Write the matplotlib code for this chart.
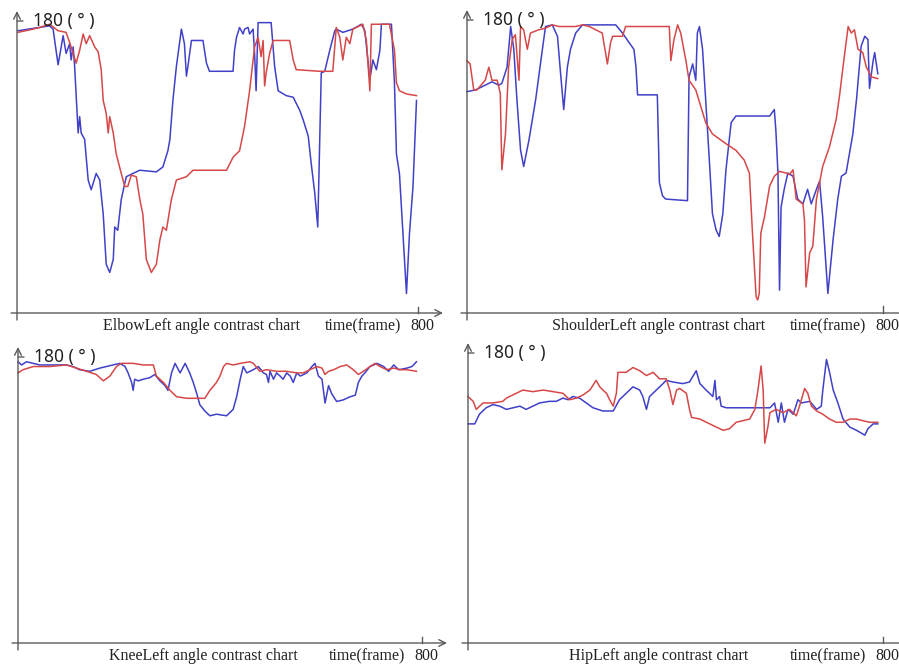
import matplotlib
matplotlib.use("Agg")
import matplotlib.pyplot as plt

# ---------------- data (frame, angle in degrees) ----------------
titles = ["ElbowLeft angle contrast chart", "ShoulderLeft angle contrast chart",
          "KneeLeft angle contrast chart", "HipLeft angle contrast chart"]
x_max_label = "800"
y_max_label = "180 ( ° )"
x_axis_label = "time(frame)"

elbow_blue_x = [2, 65, 72, 82, 92, 98, 105, 108, 112, 115, 122, 125, 128, 135, 142, 148, 158, 165, 172, 178,
                185, 192, 195, 201, 208, 218, 231, 245, 278, 291, 301, 305, 311, 318, 328, 334, 338, 341, 348, 371,
                378, 384, 431, 434, 438, 444, 451, 454, 461, 464, 471, 474, 477, 481, 507, 514, 521, 537, 551, 564,
                571, 581, 587, 594, 600, 607, 614, 624, 634, 637, 650, 670, 687, 694, 704, 710, 717, 724, 727, 747,
                753, 757, 763, 770, 777, 783, 790, 797]
elbow_blue_y = [174, 177, 175, 153, 171, 160, 166, 156, 164, 152, 111, 121, 111, 107, 82, 76, 86, 82, 61, 30,
                25, 33, 53, 51, 70, 84, 86, 88, 87, 90, 100, 107, 131, 152, 175, 166, 146, 152, 168, 168,
                154, 149, 149, 162, 170, 176, 172, 175, 176, 172, 175, 160, 137, 179, 179, 152, 137, 134, 133, 125,
                119, 109, 92, 74, 53, 148, 149, 162, 174, 175, 173, 175, 178, 174, 144, 156, 150, 162, 178, 178,
                142, 98, 86, 49, 12, 49, 78, 131]
elbow_red_x = [2, 32, 45, 65, 82, 98, 108, 118, 125, 132, 138, 145, 155, 162, 168, 172, 178, 182, 185, 192,
               198, 208, 215, 221, 228, 238, 245, 251, 258, 268, 278, 285, 291, 298, 308, 318, 338, 351, 364, 418,
               431, 444, 454, 464, 474, 481, 487, 491, 494, 497, 504, 511, 544, 551, 557, 604, 630, 637, 644, 650,
               657, 664, 670, 690, 697, 704, 707, 743, 753, 757, 763, 777, 797]
elbow_red_y = [173, 175, 176, 178, 174, 173, 164, 154, 162, 172, 166, 171, 164, 161, 150, 131, 123, 111, 121, 111,
               98, 86, 78, 78, 85, 84, 70, 61, 33, 25, 30, 45, 53, 51, 70, 82, 84, 88, 88, 88,
               96, 100, 115, 137, 164, 170, 158, 168, 140, 148, 160, 168, 168, 156, 150, 149, 149, 176, 170, 156,
               170, 166, 175, 178, 168, 137, 178, 178, 162, 142, 137, 135, 134]

shoulder_blue_x = [0, 16, 48, 61, 67, 77, 84, 90, 96, 103, 109, 119, 132, 145, 151, 164, 174, 180, 186, 193,
                   199, 209, 222, 286, 299, 312, 321, 325, 328, 366, 370, 376, 382, 424, 427, 434, 440, 443, 447, 453,
                   459, 466, 472, 479, 485, 492, 498, 508, 517, 543, 582, 591, 594, 598, 601, 604, 610, 617, 627, 636,
                   646, 655, 662, 672, 678, 684, 694, 704, 713, 720, 729, 742, 749, 758, 765, 771, 774, 781, 784, 790]
shoulder_blue_y = [136, 137, 142, 140, 141, 151, 176, 162, 131, 100, 90, 106, 131, 162, 176, 177, 170, 147, 125, 151,
                   162, 172, 177, 177, 172, 166, 162, 151, 134, 134, 80, 72, 70, 69, 145, 153, 143, 172, 176, 162,
                   131, 94, 61, 51, 47, 61, 88, 117, 121, 121, 121, 125, 112, 86, 14, 65, 76, 86, 84, 70,
                   67, 76, 67, 76, 81, 59, 12, 45, 70, 84, 86, 110, 131, 164, 170, 168, 138, 155, 160, 147]
shoulder_red_x = [0, 6, 13, 19, 35, 42, 48, 58, 64, 67, 74, 80, 87, 93, 100, 103, 109, 116, 122, 138,
                  151, 164, 177, 190, 209, 222, 235, 260, 270, 276, 280, 299, 305, 389, 392, 398, 405, 411, 421, 427,
                  440, 459, 472, 498, 517, 533, 543, 549, 556, 559, 562, 565, 572, 582, 591, 601, 614, 620, 627, 633,
                  646, 649, 652, 659, 665, 672, 684, 697, 710, 717, 723, 733, 739, 745, 752, 761, 768, 778, 790]
shoulder_red_y = [155, 153, 137, 137, 143, 151, 143, 143, 135, 88, 110, 151, 168, 171, 143, 176, 174, 162, 172, 174,
                  175, 177, 176, 176, 176, 177, 176, 172, 153, 166, 170, 170, 176, 176, 155, 168, 177, 172, 155, 143,
                  137, 117, 110, 104, 100, 94, 86, 49, 10, 8, 12, 49, 59, 78, 84, 87, 86, 85, 88, 70,
                  67, 57, 16, 37, 41, 70, 90, 102, 119, 135, 151, 176, 172, 174, 162, 160, 151, 145, 144]

knee_blue_x = [0, 7, 17, 30, 43, 96, 109, 122, 142, 162, 188, 202, 212, 218, 225, 228, 231, 238, 248, 261,
               271, 281, 291, 297, 304, 311, 321, 331, 340, 347, 354, 360, 370, 380, 393, 413, 426, 433, 440, 446,
               453, 466, 476, 486, 492, 496, 499, 506, 512, 519, 525, 532, 539, 545, 552, 559, 572, 582, 588, 595,
               602, 608, 615, 621, 631, 644, 658, 668, 674, 681, 687, 697, 711, 724, 734, 744, 754, 770, 780, 789]
knee_blue_y = [177, 175, 177, 176, 175, 175, 174, 172, 171, 173, 175, 176, 174, 170, 164, 159, 166, 165, 166, 167,
               169, 165, 162, 159, 170, 176, 170, 176, 170, 164, 157, 150, 146, 143, 144, 143, 147, 155, 166, 174,
               170, 172, 174, 170, 169, 164, 171, 166, 170, 168, 166, 170, 168, 164, 170, 168, 170, 174, 176, 168,
               166, 151, 162, 157, 152, 153, 155, 156, 164, 168, 170, 174, 176, 174, 171, 175, 172, 173, 174, 177]
knee_red_x = [0, 10, 30, 63, 96, 116, 136, 155, 169, 182, 195, 205, 228, 248, 268, 274, 281, 288, 301, 314,
              334, 354, 370, 380, 393, 400, 407, 413, 426, 440, 459, 466, 479, 492, 512, 532, 552, 565, 578, 592,
              602, 608, 615, 625, 638, 651, 664, 674, 684, 697, 707, 717, 730, 744, 757, 770, 789]
knee_red_y = [170, 172, 174, 174, 175, 173, 171, 169, 165, 168, 174, 176, 176, 175, 175, 168, 166, 164, 159, 155,
              154, 154, 154, 159, 164, 168, 174, 176, 175, 176, 177, 176, 171, 172, 171, 171, 170, 170, 172, 174,
              173, 169, 171, 172, 174, 175, 172, 169, 171, 174, 176, 174, 172, 173, 172, 172, 171]

hip_blue_x = [0, 13, 22, 35, 48, 61, 74, 87, 100, 112, 125, 138, 157, 170, 183, 193, 202, 215, 228, 241,
              260, 280, 292, 305, 318, 331, 337, 344, 350, 363, 376, 382, 395, 414, 427, 440, 447, 459, 472, 476,
              479, 485, 488, 498, 524, 562, 582, 591, 598, 604, 610, 617, 627, 636, 643, 659, 672, 681, 684, 691,
              697, 704, 713, 723, 736, 749, 765, 771, 781, 790]
hip_blue_y = [136, 136, 142, 146, 148, 147, 145, 146, 147, 145, 147, 149, 150, 150, 152, 151, 153, 152, 149, 146,
              144, 144, 151, 155, 159, 157, 153, 145, 153, 157, 161, 163, 162, 161, 162, 169, 161, 157, 153, 163,
              151, 153, 147, 146, 146, 146, 146, 149, 137, 149, 137, 145, 142, 151, 149, 150, 145, 147, 157, 176,
              168, 157, 149, 139, 134, 132, 129, 133, 136, 136]
hip_red_x = [0, 10, 16, 29, 48, 67, 74, 93, 106, 125, 145, 164, 183, 196, 209, 222, 235, 247, 254, 260,
             267, 273, 280, 286, 289, 305, 318, 331, 344, 357, 369, 382, 389, 395, 402, 408, 421, 427, 431, 447,
             466, 479, 492, 504, 517, 530, 543, 553, 559, 565, 569, 572, 578, 582, 594, 607, 620, 633, 639, 649,
             655, 662, 672, 684, 697, 710, 723, 736, 749, 761, 774, 790]
hip_red_y = [153, 150, 145, 149, 149, 150, 152, 155, 157, 156, 157, 156, 155, 151, 152, 154, 157, 163, 159, 157,
             155, 151, 147, 155, 168, 168, 171, 169, 166, 168, 164, 164, 157, 148, 157, 158, 155, 145, 140, 139,
             136, 134, 132, 133, 137, 138, 139, 145, 157, 172, 157, 124, 134, 143, 145, 143, 145, 141, 147, 158,
             155, 147, 144, 142, 139, 137, 137, 139, 139, 138, 137, 137]

series = [
    (elbow_blue_x, elbow_blue_y, elbow_red_x, elbow_red_y),
    (shoulder_blue_x, shoulder_blue_y, shoulder_red_x, shoulder_red_y),
    (knee_blue_x, knee_blue_y, knee_red_x, knee_red_y),
    (hip_blue_x, hip_blue_y, hip_red_x, hip_red_y),
]

# ---------------- layout (image pixels: x0, x800, y at 0, y at 180) ----------------
W, H = 899, 668
panels = [(17, 418, 313, 21), (467, 883, 313, 20), (18, 422, 643, 357), (468, 883, 643, 353)]

BLUE = "#4040c8"
RED = "#d64848"
AXC = "#5a5a5a"
TXT = "#222222"

fig = plt.figure(figsize=(W / 100, H / 100), dpi=100)
fig.patch.set_facecolor("white")

for (x0, x1, y0, y1), (bx, by, rx, ry), title in zip(panels, series, titles):
    ax = fig.add_axes([x0 / W, (H - y0) / H, (x1 - x0) / W, (y0 - y1) / H])
    ax.set_xlim(0, 800)
    ax.set_ylim(0, 180)
    ax.axis("off")
    ax.plot(bx, by, color=BLUE, lw=1.1, clip_on=False, zorder=3)
    ax.plot(rx, ry, color=RED, lw=1.1, clip_on=False, zorder=3)

    w = x1 - x0
    h = y0 - y1
    ap = dict(arrowstyle="->", color=AXC, lw=1.0, shrinkA=0, shrinkB=0, mutation_scale=12)
    # x axis
    ax.annotate("", xy=(w + 25, 0), xytext=(-6, 0), xycoords="axes pixels",
                textcoords="axes pixels", arrowprops=ap, annotation_clip=False)
    # y axis
    ax.annotate("", xy=(0, h + 10), xytext=(0, -7), xycoords="axes pixels",
                textcoords="axes pixels", arrowprops=ap, annotation_clip=False)
    # ticks
    ax.plot([800, 800], [0, 4], color=AXC, lw=1.0, clip_on=False)
    ax.annotate("", xy=(6, h), xytext=(0, h), xycoords="axes pixels",
                textcoords="axes pixels",
                arrowprops=dict(arrowstyle="-", color=AXC, lw=1.0, shrinkA=0, shrinkB=0),
                annotation_clip=False)

    # texts
    ax.annotate(y_max_label, xy=(16, h), xycoords="axes pixels", ha="left", va="center",
                fontsize=12.5, family=["Noto Sans", "DejaVu Sans"], color=TXT, annotation_clip=False)
    ax.annotate(title, xy=(w * 0.46, -13), xycoords="axes pixels", ha="center", va="center",
                fontsize=11.5, family="Liberation Serif", color=TXT, annotation_clip=False)
    ax.annotate(x_axis_label, xy=(w - 17, -13), xycoords="axes pixels", ha="right", va="center",
                fontsize=11.5, family="Liberation Serif", color=TXT, annotation_clip=False)
    ax.annotate(x_max_label, xy=(w + 4, -13), xycoords="axes pixels", ha="center", va="center",
                fontsize=11.5, family="Liberation Serif", color=TXT, annotation_clip=False)

fig.savefig("out.png", dpi=100, facecolor="white")
